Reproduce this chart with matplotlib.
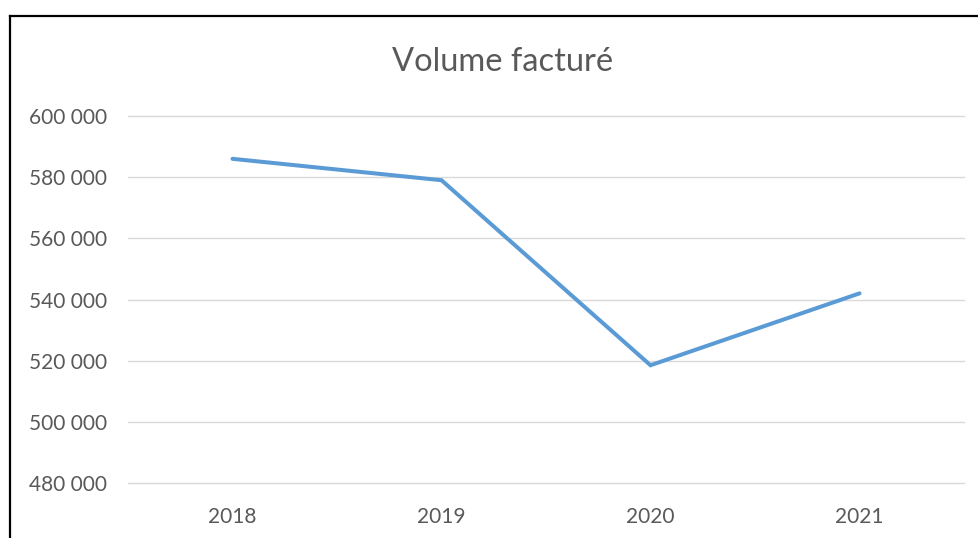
import matplotlib
matplotlib.use("Agg")
import matplotlib.pyplot as plt
from matplotlib.lines import Line2D
from matplotlib.ticker import FuncFormatter

# data
annees = ["2018", "2019", "2020", "2021"]
volume = [586000, 579000, 518500, 542000]
y_ticks = [480000, 500000, 520000, 540000, 560000, 580000, 600000]

W, H = 979, 538
plt.rcParams['font.family'] = ['Lato', 'DejaVu Sans']

fig = plt.figure(figsize=(W / 100, H / 100), dpi=100)
ax = fig.add_axes([128 / W, 1 - 483 / H, (964 - 128) / W, (483 - 116) / H])

x = list(range(len(annees)))
ax.plot(x, volume, color="#5B9BD5", linewidth=2.9, solid_capstyle="round",
        solid_joinstyle="miter", zorder=3)

ax.set_xlim(-0.5, len(annees) - 0.5)
ax.set_ylim(480000, 600000)
ax.set_yticks(y_ticks)
ax.yaxis.set_major_formatter(FuncFormatter(lambda v, p: f"{int(v):,}".replace(",", " ")))
ax.set_xticks(x)
ax.set_xticklabels(annees)

ax.grid(axis="y", color="#D9D9D9", linewidth=1)
for gl in ax.get_ygridlines():
    gl.set_clip_on(False)
ax.set_axisbelow(True)
for s in ax.spines.values():
    s.set_visible(False)
ax.tick_params(axis="both", length=0, labelsize=15, labelcolor="#595959")
ax.tick_params(axis="y", pad=15)
ax.tick_params(axis="x", pad=17)

fig.text(503 / W, 1 - 71 / H, "Volume facturé", ha="center", va="baseline",
         fontsize=23.5, color="#595959")

# chart frame (top and left edges visible in the screenshot)
fig.add_artist(Line2D([10 / W, 1], [1 - 15.5 / H, 1 - 15.5 / H], color="black",
                      linewidth=1.6, transform=fig.transFigure))
fig.add_artist(Line2D([10 / W, 10 / W], [0, 1 - 15.5 / H], color="black",
                      linewidth=1.6, transform=fig.transFigure))

fig.savefig("out.png", dpi=100)
